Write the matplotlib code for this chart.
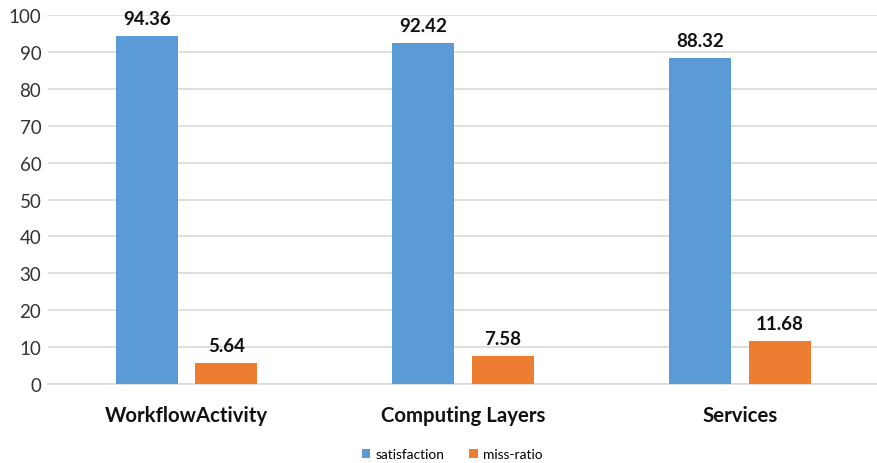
import matplotlib.pyplot as plt
import numpy as np

# chart data
categories = ['WorkflowActivity', 'Computing Layers', 'Services']
satisfaction = [94.36, 92.42, 88.32]
miss_ratio = [5.64, 7.58, 11.68]
series_names = ['satisfaction', 'miss-ratio']
colors = ['#5B9BD5', '#ED7D31']

plt.rcParams['font.family'] = ['Lato', 'DejaVu Sans']

fig = plt.figure(figsize=(8.78, 4.64), dpi=100)
ax = fig.add_axes([0.055, 0.170, 0.945, 0.7955])

x = np.arange(len(categories))
w = 0.224
off = 0.144
b1 = ax.bar(x - off, satisfaction, w, color=colors[0], label=series_names[0], zorder=3)
b2 = ax.bar(x + off, miss_ratio, w, color=colors[1], label=series_names[1], zorder=3)

# value labels above bars
for bars, vals in ((b1, satisfaction), (b2, miss_ratio)):
    for rect, v in zip(bars, vals):
        ax.annotate(f'{v:.2f}', (rect.get_x() + rect.get_width() / 2, v),
                    xytext=(0, 6.5), textcoords='offset points',
                    ha='center', va='bottom', fontsize=13.5,
                    fontweight='bold', color='#111111')

ax.set_xlim(-0.5, 2.5)
ax.set_ylim(0, 100)
ax.set_yticks(range(0, 101, 10))
ax.set_xticks(x)
ax.set_xticklabels(categories, fontsize=14.7, fontweight='bold', color='#111111')
ax.tick_params(axis='x', length=0, pad=15)
ax.tick_params(axis='y', length=0, labelsize=13.5, colors='#333333', pad=5)
ax.grid(axis='y', color='#d9d9d9', linewidth=1.2, zorder=0)
for s in ['top', 'right', 'left']:
    ax.spines[s].set_visible(False)
ax.spines['bottom'].set_color('#d9d9d9')
ax.spines['bottom'].set_linewidth(1.2)

leg = ax.legend(loc='lower center', bbox_to_anchor=(0.487, -0.24), ncol=2,
                frameon=False, fontsize=9.9, handlelength=0.6, handleheight=0.6,
                handletextpad=0.4, columnspacing=1.8)

fig.savefig('out.png', dpi=100)
